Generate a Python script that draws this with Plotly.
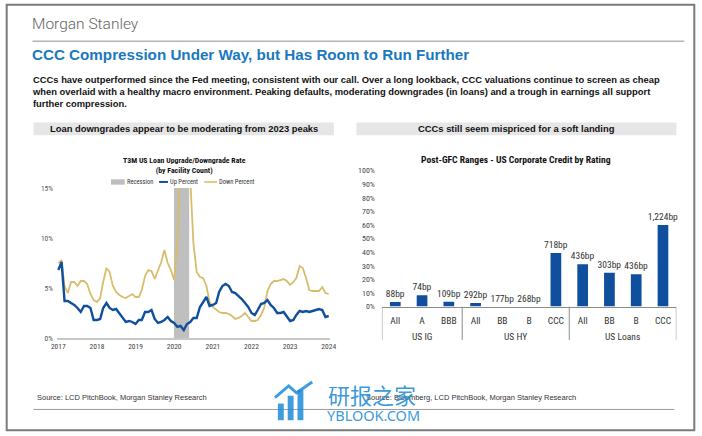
import pandas as pd
import plotly.graph_objects as go

W, H = 702, 436

# ---------------- data: left chart (monthly, Jan-2017 .. Jan-2024) ----------------
months = pd.date_range("2017-01-01", periods=85, freq="MS")
up_percent = [6.8, 7.6, 3.7, 3.7, 3.5, 3.3, 3.0, 2.6, 3.2, 3.2, 3.0, 1.8,
              1.8, 1.9, 3.0, 3.5, 3.0, 2.8, 2.9, 2.5, 2.1, 1.6, 1.7, 1.6,
              1.4, 1.8, 1.8, 2.6, 2.6, 2.8, 1.9, 1.5, 1.6, 1.8, 2.1, 1.7,
              1.5, 1.1, 1.2, 0.8, 1.4, 1.6, 2.0, 2.0, 3.1, 3.6, 4.1, 3.2,
              3.3, 3.5, 4.6, 5.2, 5.4, 5.2, 4.6, 4.5, 4.2, 3.9, 3.5, 3.1,
              2.5, 2.3, 2.8, 3.4, 3.5, 3.8, 3.3, 3.0, 2.5, 2.5, 2.6, 2.2,
              1.7, 1.8, 2.3, 2.7, 2.6, 2.7, 2.6, 2.7, 2.8, 2.9, 2.8, 2.1,
              2.2]
down_percent = [7.5, 7.8, 5.2, 4.5, 5.6, 5.6, 5.2, 5.7, 5.7, 5.4, 4.4, 3.8,
                3.6, 4.0, 5.6, 7.0, 6.6, 5.2, 4.6, 4.3, 4.1, 4.0, 4.2, 4.4,
                4.1, 4.1, 4.8, 6.2, 6.8, 6.7, 5.9, 6.8, 7.6, 8.8, 7.5, 6.8,
                5.8, 9.5, 25.0, 30.0, 25.0, 16.0, 9.5, 6.6, 6.1, 6.0, 5.2, 3.6,
                3.1, 2.8, 2.6, 2.5, 2.5, 2.4, 2.2, 1.9, 2.0, 2.2, 2.5, 2.1,
                1.7, 1.7, 1.8, 2.3, 3.0, 4.7, 5.4, 5.7, 5.7, 5.8, 5.9, 5.7,
                5.3, 5.6, 6.0, 7.2, 7.0, 6.0, 4.8, 4.7, 4.7, 4.7, 5.1, 4.5,
                4.4]
recession_start = "2019-12-30"
recession_end = "2020-05-22"
year_ticks = ["2017-01-01", "2018-01-01", "2019-01-01", "2020-01-01",
              "2021-01-01", "2022-01-01", "2023-01-01", "2024-01-01"]
year_labels = ["2017", "2018", "2019", "2020", "2021", "2022", "2023", "2024"]
left_ticks = [0, 5, 10, 15]
left_tick_labels = ["0%", "5%", "10%", "15%"]

# ---------------- data: right chart ----------------
groups = ["US IG", "US IG", "US IG", "US HY", "US HY", "US HY", "US HY",
          "US Loans", "US Loans", "US Loans", "US Loans"]
ratings = ["All", "A", "BBB", "All", "BB", "B", "CCC", "All", "BB", "B", "CCC"]
range_pct = [3.4, 8.4, 3.6, 2.6, 0.0, 0.0, 39.3, 31.2, 24.9, 23.7, 60.0]
range_labels = ["88bp", "74bp", "109bp", "292bp", "177bp", "268bp", "718bp",
                "436bp", "303bp", "436bp", "1,224bp"]
pct_ticks = [0, 10, 20, 30, 40, 50, 60, 70, 80, 90, 100]
pct_tick_labels = ["0%", "10%", "20%", "30%", "40%", "50%", "60%", "70%", "80%", "90%", "100%"]

# ---------------- styling ----------------
NARROW = "Liberation Sans Narrow, Roboto Condensed, Roboto, sans-serif"
ARIAL = "Liberation Sans, Arial, sans-serif"
BLUE = "#0f4f9e"
GOLD = "#d8bd6c"
GREY_BAND = "#bfbfbf"
DIV = "#8c8c8c"


def fx(x):
    return x / W


def fy(y):
    return 1 - y / H


fig = go.Figure()

fig.add_trace(go.Scatter(x=months, y=down_percent, mode="lines", name="Down Percent",
                         line=dict(color=GOLD, width=1.8), xaxis="x", yaxis="y",
                         showlegend=False))
fig.add_trace(go.Scatter(x=months, y=up_percent, mode="lines", name="Up Percent",
                         line=dict(color=BLUE, width=2.4), xaxis="x", yaxis="y",
                         showlegend=False))

bar_pos = list(range(len(ratings)))
fig.add_trace(go.Bar(x=bar_pos, y=range_pct, text=range_labels,
                     textposition="outside", cliponaxis=False, constraintext="none",
                     textfont=dict(family=NARROW, size=9.5, color="#333333"),
                     marker=dict(color=BLUE, line=dict(width=0)),
                     xaxis="x2", yaxis="y2", showlegend=False))

shapes = []
ann = []

# group dividers and group labels for the right chart (from the groups list)
group_names = []
group_members = {}
for i, g in enumerate(groups):
    if g not in group_members:
        group_names.append(g)
        group_members[g] = []
    group_members[g].append(i)
boundaries = [-0.5] + [max(group_members[g]) + 0.5 for g in group_names]
for b in boundaries:
    shapes.append(dict(type="line", xref="x2", yref="paper", x0=b, x1=b,
                       y0=fy(309), y1=fy(343), line=dict(color=DIV, width=1)))
for g in group_names:
    idx = group_members[g]
    ann.append(dict(xref="x2", yref="paper", x=sum(idx) / len(idx), y=fy(339),
                    text=g, showarrow=False, xanchor="center", yanchor="middle",
                    font=dict(family=NARROW, size=9.5, color="#333333")))

# recession band
shapes.append(dict(type="rect", xref="x", yref="y domain", x0=recession_start,
                   x1=recession_end, y0=0, y1=1, fillcolor=GREY_BAND,
                   line=dict(width=0), layer="below"))
# outer border
shapes.append(dict(type="rect", xref="paper", yref="paper", x0=0.001, x1=0.999,
                   y0=0.002, y1=0.998, line=dict(color="#7a7a7a", width=2)))
# header rule
shapes.append(dict(type="line", xref="paper", yref="paper", x0=fx(27), x1=fx(691),
                   y0=fy(38), y1=fy(38), line=dict(color="#b5b5b5", width=1.5)))
# footer rule
shapes.append(dict(type="line", xref="paper", yref="paper", x0=fx(28), x1=fx(681),
                   y0=fy(414), y1=fy(414), line=dict(color="#9a9a9a", width=1)))
# sub-header boxes
shapes.append(dict(type="rect", xref="paper", yref="paper", x0=fx(28), x1=fx(334),
                   y0=fy(134), y1=fy(121), fillcolor="#e6e6e6", line=dict(width=0)))
shapes.append(dict(type="rect", xref="paper", yref="paper", x0=fx(357), x1=fx(683),
                   y0=fy(134), y1=fy(121), fillcolor="#e6e6e6", line=dict(width=0)))
# manual legend symbols (left chart)
shapes.append(dict(type="rect", xref="paper", yref="paper", x0=fx(107), x1=fx(121),
                   y0=fy(184.5), y1=fy(179), fillcolor=GREY_BAND, line=dict(width=0)))
shapes.append(dict(type="line", xref="paper", yref="paper", x0=fx(156), x1=fx(165),
                   y0=fy(181.7), y1=fy(181.7), line=dict(color=BLUE, width=2)))
shapes.append(dict(type="line", xref="paper", yref="paper", x0=fx(202), x1=fx(215),
                   y0=fy(181.7), y1=fy(181.7), line=dict(color=GOLD, width=1.6)))
# watermark logo (simple bars)
for (x0, x1, y0) in [(277, 283, 408), (287, 293, 400), (297, 303, 394)]:
    shapes.append(dict(type="rect", xref="paper", yref="paper", x0=fx(x0), x1=fx(x1),
                       y0=fy(425), y1=fy(y0), fillcolor="rgba(30,140,215,0.85)",
                       line=dict(width=0)))
shapes.append(dict(type="path", xref="paper", yref="paper",
                   path=f"M {fx(274)},{fy(402)} L {fx(288)},{fy(390)} L {fx(296)},{fy(397)} L {fx(312)},{fy(386)}",
                   line=dict(color="rgba(30,140,215,0.85)", width=3)))


def text(x, y, s, size, color="#000", family=ARIAL, xanchor="left", yanchor="middle",
         bold=False, align="left", weight=None):
    f = dict(size=size, color=color, family=family)
    if weight is not None:
        f["weight"] = weight
    ann.append(dict(xref="paper", yref="paper", x=fx(x), y=fy(y), text=(f"<b>{s}</b>" if bold else s),
                    showarrow=False, xanchor=xanchor, yanchor=yanchor, align=align,
                    font=f))


text(24, 20, "Morgan Stanley", 15.5, color="#646464", family="Roboto, sans-serif", weight=300)
text(24, 52, "CCC Compression Under Way, but Has Room to Run Further", 15.2,
     color="#1a78be", bold=True)
ann.append(dict(xref="paper", yref="paper", x=fx(24), y=fy(69), showarrow=False,
                xanchor="left", yanchor="top", align="left",
                text="<b>CCCs have outperformed since the Fed meeting, consistent with our call. Over a long lookback, CCC valuations continue to screen as cheap<br>"
                     "when overlaid with a healthy macro environment. Peaking defaults, moderating downgrades (in loans) and a trough in earnings all support<br>"
                     "further compression.</b>",
                font=dict(size=9.4, color="#111111", family=ARIAL)))
text(181, 127.5, "Loan downgrades appear to be moderating from 2023 peaks", 9.4,
     color="#111111", xanchor="center", bold=True)
text(520, 127.5, "CCCs still seem mispriced for a soft landing", 9.4,
     color="#111111", xanchor="center", bold=True)
# left chart title + legend text
text(182, 164.5, "T3M US Loan Upgrade/Downgrade Rate<br>(by Facility Count)", 7.8,
     color="#111111", family=NARROW, xanchor="center", bold=True, align="center")
text(121, 182, "Recession", 6.5, color="#333333", family=NARROW)
text(165, 182, "Up Percent", 6.5, color="#333333", family=NARROW)
text(215, 182, "Down Percent", 6.5, color="#333333", family=NARROW)
# right chart title
text(520, 159, "Post-GFC Ranges - US Corporate Credit by Rating", 9.6,
     color="#111111", family=NARROW, xanchor="center", bold=True)
# sources
text(30, 402, "Source: LCD PitchBook, Morgan Stanley Research", 7.5, color="#333333")
text(365, 402, "Source: Bloomberg, LCD PitchBook, Morgan Stanley Research", 7.5, color="#333333")
# watermark text
text(373, 398, "研报之家", 22, color="rgba(30,140,215,0.9)",
     family="Noto Sans CJK SC", xanchor="center")
text(374, 420, "YBLOOK.COM", 14.5, color="rgba(30,140,215,0.9)",
     family="Noto Sans, sans-serif", xanchor="center")

fig.update_layout(
    width=W, height=H, margin=dict(l=0, r=0, t=0, b=0),
    paper_bgcolor="white", plot_bgcolor="white",
    showlegend=False, bargap=0.6,
    shapes=shapes, annotations=ann,
    xaxis=dict(domain=[fx(52), fx(330)], type="date",
               range=["2016-12-20", "2024-01-12"],
               tickvals=year_ticks, ticktext=year_labels, ticks="",
               showgrid=False, zeroline=False, showline=True,
               linecolor="#c8c8c8", linewidth=2, anchor="y",
               tickfont=dict(family=NARROW, size=7.5, color="#444444")),
    yaxis=dict(domain=[fy(341), fy(188)], range=[0, 15],
               tickvals=left_ticks, ticktext=left_tick_labels, showgrid=False,
               zeroline=False, showline=False, anchor="x", ticklabelstandoff=3,
               tickfont=dict(family=NARROW, size=7.5, color="#555555")),
    xaxis2=dict(domain=[fx(383), fx(683)], anchor="y2", range=[-0.5, len(ratings) - 0.5],
                tickvals=bar_pos, ticktext=ratings,
                showgrid=False, showline=True, linecolor=DIV, linewidth=1,
                ticks="", zeroline=False, ticklabelstandoff=5,
                tickfont=dict(family=NARROW, size=9.5, color="#333333")),
    yaxis2=dict(domain=[fy(309), fy(170)], range=[0, 100], tickvals=pct_ticks,
                ticktext=pct_tick_labels, showgrid=False, zeroline=False, showline=False,
                anchor="x2", ticklabelstandoff=6,
                tickfont=dict(family=NARROW, size=8, color="#444444")),
)

fig.write_html("out.html", config={"displayModeBar": False},
               post_script="document.body.style.margin='0px';document.body.style.padding='0px';"
                           "document.body.style.overflow='hidden';"
                           "document.documentElement.style.overflow='hidden';")
